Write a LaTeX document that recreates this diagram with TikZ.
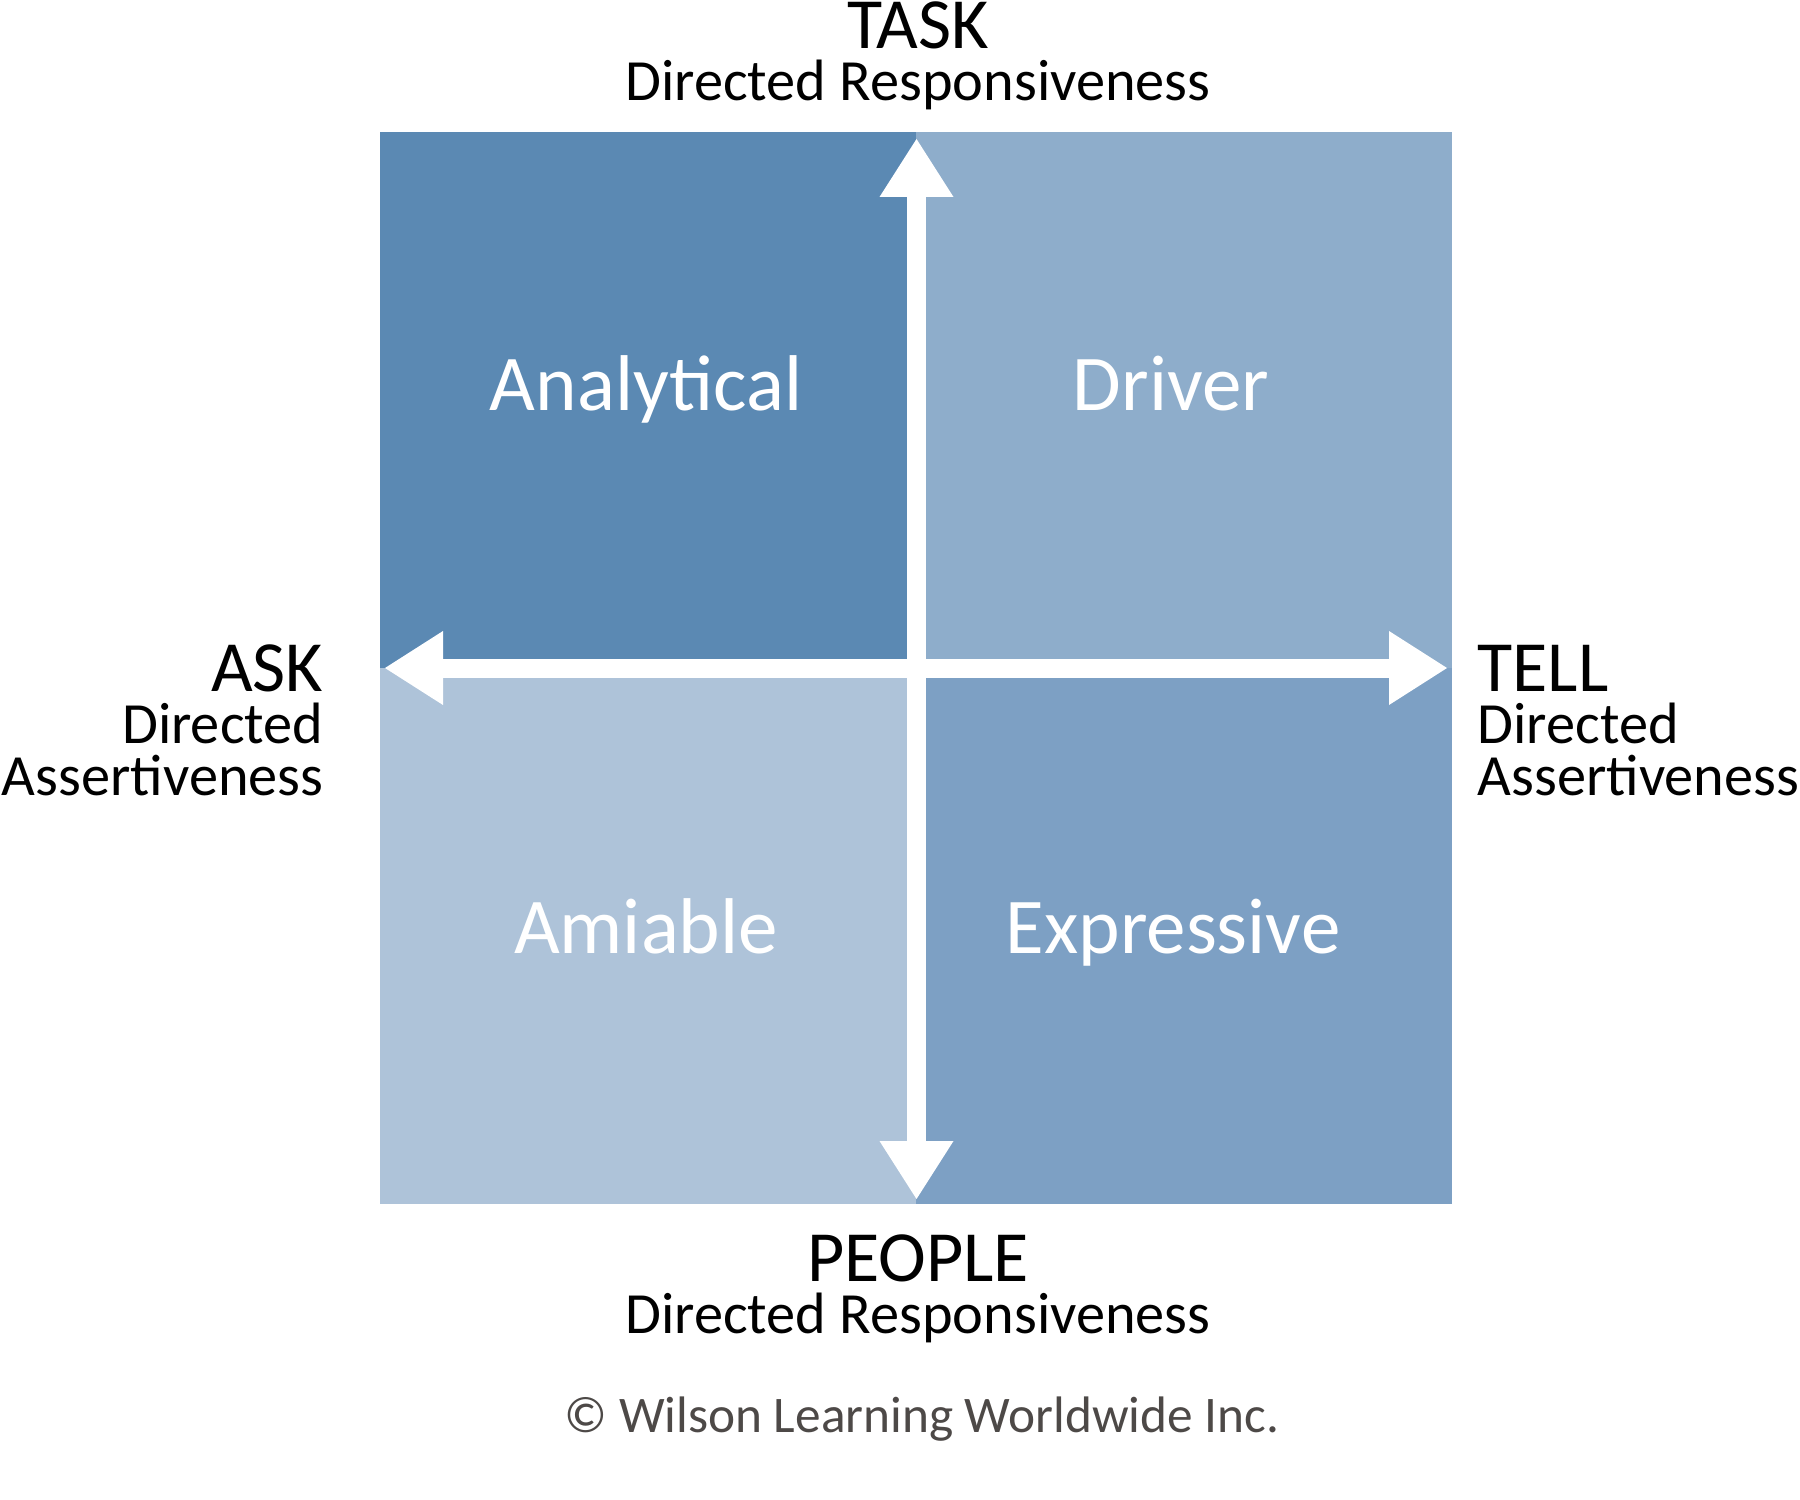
\documentclass[tikz,border=0pt]{standalone}
\usepackage{fontspec}
\setmainfont{Carlito}
\usetikzlibrary{arrows.meta, positioning}
\definecolor{analytical}{HTML}{5B89B3}
\definecolor{driver}{HTML}{8EADCB}
\definecolor{amiable}{HTML}{AEC3D9}
\definecolor{expressive}{HTML}{7DA0C4}
\definecolor{copygray}{HTML}{4D4947}

\begin{document}
\begin{tikzpicture}[
  x=0.1mm, y=-0.1mm,
  quad/.style={inner sep=0pt, minimum width=53.6mm, minimum height=53.6mm},
  style name/.style={text=white, font=\fontsize{22.5}{27}\selectfont, anchor=base, inner sep=0pt},
  axis/.style={font=\fontsize{20.5}{24}\selectfont, inner sep=0pt},
  sub/.style={font=\fontsize{16.6}{20}\selectfont, inner sep=0pt},
  arrow/.style={white, line width=1.9mm,
    {Triangle[length=5.8mm, width=7.4mm, line width=0pt]}-{Triangle[length=5.8mm, width=7.4mm, line width=0pt]}}
]
  \useasboundingbox (0,0) rectangle (1800,1500);

  % quadrants
  \node[quad, fill=analytical] (ana) at (648,400) {};
  \node[quad, fill=driver] (drv) at (1184,400) {};
  \node[quad, fill=amiable] (ami) at (648,936) {};
  \node[quad, fill=expressive] (exp) at (1184,936) {};

  \node[style name] (anat) at (646,410) {Analytical};
  \node[style name] (drvt) at (1171,410) {Driver};
  \node[style name] (amit) at (646,953) {Amiable};
  \node[style name] (expt) at (1173,953) {Expressive};

  % axes
  \coordinate (top) at (916.5,139);
  \coordinate (bottom) at (916.5,1199);
  \coordinate (left) at (385,668);
  \coordinate (right) at (1447,668);
  \draw[arrow] (top) -- (bottom);
  \draw[arrow] (left) -- (right);

  % axis labels
  \node[axis, anchor=base] (task) at (918,49) {TASK};
  \node[sub, anchor=base] (task1) at (918,101) {Directed Responsiveness};
  \node[axis, anchor=base] (people) at (918,1281) {PEOPLE};
  \node[sub, anchor=base] (people1) at (918,1333) {Directed Responsiveness};

  \node[axis, anchor=base east] (ask) at (324,691) {ASK};
  \node[sub, anchor=base east] (ask1) at (324,743) {Directed};
  \node[sub, anchor=base east] (ask2) at (324,795) {Assertiveness};

  \node[axis, anchor=base west] (tell) at (1477,691) {TELL};
  \node[sub, anchor=base west] (tell1) at (1477,743) {Directed};
  \node[sub, anchor=base west] (tell2) at (1477,795) {Assertiveness};

  \node[sub, anchor=base, text=copygray, font=\fontsize{14.6}{18}\selectfont] (copy) at (922,1432) {© Wilson Learning Worldwide Inc.};
\end{tikzpicture}
\end{document}
